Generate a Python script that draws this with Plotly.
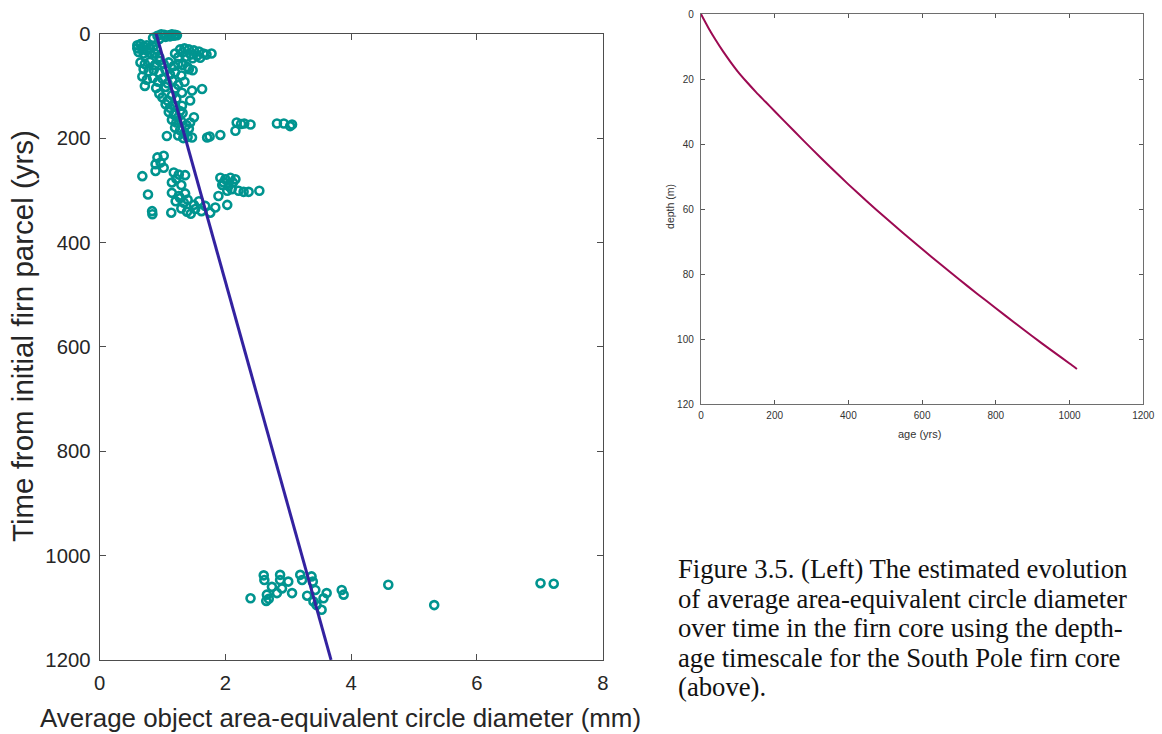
import plotly.graph_objects as go

# ---- Left panel: average area-equivalent circle diameter vs. time ----
# Diameter (mm) of each measured object group and its time from the initial firn parcel (yrs)
diam_mm = [
    # near the surface
    0.85, 0.92, 0.98, 1.03, 1.10, 1.15, 1.20, 1.23, 0.95, 1.05, 1.12, 1.18,
    0.60, 0.65, 0.70, 0.75, 0.80, 0.60, 0.68, 0.75, 0.85, 0.90, 0.62, 0.70, 0.80, 0.88, 0.95,
    1.20, 1.28, 1.35, 1.42, 1.50, 1.58, 1.65, 1.32, 1.45, 1.55, 1.25, 1.38, 1.70, 1.78, 1.60, 1.48,
    0.65, 0.72, 0.80, 0.88, 0.95, 1.02, 1.10, 1.18, 1.25, 1.32, 1.40,
    0.70, 0.78, 0.86, 0.95, 1.05, 1.12, 1.20, 1.30, 1.42, 1.48,
    0.68, 0.75, 0.85, 0.93, 1.00, 1.08, 1.16, 1.25, 1.35, 0.72, 0.90, 1.05, 1.20,
    1.31, 1.47, 1.63, 1.44, 1.31, 0.95, 1.00, 1.08, 1.15, 1.22, 1.05, 1.12, 1.20, 1.28,
    1.10, 1.18, 1.25, 1.32, 1.15, 1.22, 1.30, 1.38, 1.20, 1.28, 1.35, 1.42, 1.25, 1.33,
    1.40, 1.47, 1.07, 1.44, 1.50,
    1.71, 1.75, 1.92, 2.16, 2.18, 2.25, 2.30, 2.40, 2.82, 2.93, 3.03, 3.06,
    # ~250-350 yrs
    0.92, 1.02, 0.89, 0.97, 1.02, 0.68, 0.89, 1.18, 1.26, 1.36, 1.15, 1.22, 1.30,
    0.77, 1.15, 1.26, 1.36, 1.21, 1.34, 1.28, 1.40, 0.835, 0.84, 1.14, 1.39, 1.52,
    1.58, 1.68, 1.84, 1.76, 2.03, 1.89, 1.45, 1.62, 1.30, 1.50,
    1.92, 2.00, 2.08, 2.16, 1.97, 2.05, 2.10, 2.21, 2.29, 2.37, 2.54, 2.03, 1.95, 2.12,
    # ~1040-1100 yrs
    2.40, 2.61, 2.62, 2.66, 2.69, 2.65, 2.74, 2.82, 2.87, 2.87, 2.90, 3.00, 3.06,
    3.19, 3.22, 3.37, 3.39, 3.30, 3.43, 3.40, 3.45, 3.53, 3.56, 3.61, 3.85, 3.88,
    4.59, 5.32, 7.01, 7.22,
]
time_yrs = [
    8, 4, 1, 2, 3, 1, 2, 3, 10, 6, 5, 4,
    22, 20, 24, 22, 27, 28, 30, 32, 25, 30, 35, 38, 36, 38, 45,
    38, 30, 28, 30, 32, 34, 38, 36, 40, 42, 45, 44, 40, 38, 46, 47,
    55, 58, 54, 60, 52, 58, 55, 62, 58, 60, 64,
    68, 72, 70, 75, 70, 78, 74, 80, 68, 70,
    82, 88, 85, 92, 86, 95, 90, 98, 92, 100, 104, 102, 105,
    113, 109, 106, 128, 138, 115, 122, 128, 118, 125, 135, 142, 138, 148,
    150, 155, 160, 152, 165, 170, 168, 175, 180, 185, 190, 182, 195, 200,
    198, 199, 196, 170, 160,
    199, 197, 194, 186, 170, 173, 172, 174, 172, 172, 177, 174,
    237, 234, 250, 247, 257, 273, 263, 266, 270, 271, 285, 278, 290,
    308, 305, 311, 306, 321, 324, 315, 318, 340, 346, 343, 341, 336,
    321, 330, 333, 343, 328, 311, 345, 340, 335, 328,
    276, 279, 276, 279, 285, 292, 298, 301, 303, 303, 301, 301, 290, 285,
    1082, 1038, 1047, 1075, 1083, 1087, 1060, 1072, 1037, 1047, 1063, 1050, 1072,
    1037, 1047, 1040, 1050, 1077, 1066, 1088, 1095, 1104, 1082, 1072, 1066, 1075,
    1056, 1095, 1053, 1054,
]

# Linear trend of diameter with time
trend_time = [0, 1200]
trend_diam = [0.90, 3.68]

# ---- Right panel: depth-age timescale for the South Pole firn core ----
age_yrs = [0, 20, 40, 60, 80, 100, 125, 150, 175, 200, 250, 300, 350, 400, 450,
           500, 550, 600, 650, 700, 750, 800, 850, 900, 950, 1000, 1020]
depth_m = [0, 4.2, 8.0, 11.5, 14.7, 17.7, 21.0, 24.1, 27.0, 29.9, 35.7, 41.4, 47.0,
           52.4, 57.6, 62.6, 67.5, 72.3, 77.0, 81.6, 86.1, 90.5, 94.9, 99.2, 103.4,
           107.5, 109.2]

left_ticks_x = [0, 2, 4, 6, 8]
left_ticks_y = [0, 200, 400, 600, 800, 1000, 1200]
right_ticks_x = [0, 200, 400, 600, 800, 1000, 1200]
right_ticks_y = [0, 20, 40, 60, 80, 100, 120]

caption_lines = [
    "Figure 3.5. (Left) The estimated evolution",
    "of average area-equivalent circle diameter",
    "over time in the firn core using the depth-",
    "age timescale for the South Pole firn core",
    "(above).",
]

W, H = 1162, 734
# Placement of the panels is written in screen pixels; these factors convert
# them to figure pixels for the way the page is laid out and scaled on screen.
SCALE_X, SCALE_Y = 0.986, 0.969
OFFSET_X, OFFSET_Y = 7.0, 10.3

TEAL = "#00948f"
INDIGO = "#3322a0"
MAROON = "#9c0a52"
SANS = "Liberation Sans, Arial, sans-serif"


def px_x(p):
    return ((p - OFFSET_X) / SCALE_X) / W


def px_y(p):
    return 1 - ((p - OFFSET_Y) / SCALE_Y) / H


fig = go.Figure()

fig.add_trace(go.Scatter(
    x=diam_mm, y=time_yrs, mode="markers", xaxis="x", yaxis="y",
    marker=dict(symbol="circle-open", size=8, color=TEAL, line=dict(width=2.6, color=TEAL)),
    cliponaxis=False, showlegend=False, hoverinfo="x+y",
))
fig.add_trace(go.Scatter(
    x=trend_diam, y=trend_time, mode="lines", xaxis="x", yaxis="y",
    line=dict(color=INDIGO, width=3), showlegend=False,
))
fig.add_trace(go.Scatter(
    x=age_yrs, y=depth_m, mode="lines", xaxis="x2", yaxis="y2",
    line=dict(color=MAROON, width=2, shape="spline", smoothing=0.6), showlegend=False,
))

left_axis = dict(
    showline=True, linecolor="#4d4d4d", linewidth=1, mirror="ticks",
    ticks="inside", ticklen=6, tickcolor="#4d4d4d", tickwidth=1,
    showgrid=False, zeroline=False,
    tickfont=dict(family=SANS, size=20.3, color="#262626"),
)
right_axis = dict(
    showline=True, linecolor="#6e6e6e", linewidth=1.3, mirror="ticks",
    ticks="inside", ticklen=4, tickcolor="#555555", tickwidth=1,
    showgrid=False, zeroline=False, ticklabeloverflow="allow",
    tickfont=dict(family=SANS, size=10, color="#333333"),
)

fig.update_layout(
    width=W, height=H,
    margin=dict(l=0, r=0, t=0, b=0),
    paper_bgcolor="white", plot_bgcolor="white",
    xaxis=dict(left_axis, domain=[px_x(100.7), px_x(604.7)], range=[0, 8],
               tickvals=left_ticks_x, anchor="y", ticklabelstandoff=5),
    yaxis=dict(left_axis, domain=[px_y(658.5), px_y(33)], range=[1200, 0],
               tickvals=left_ticks_y, anchor="x", ticklabelstandoff=4),
    xaxis2=dict(right_axis, domain=[px_x(703), px_x(1146)], range=[0, 1200],
                tickvals=right_ticks_x, anchor="y2", ticklabelstandoff=2),
    yaxis2=dict(right_axis, domain=[px_y(403), px_y(13.3)], range=[120, 0],
                tickvals=right_ticks_y, anchor="x2", ticklabelstandoff=4),
)

annotations = [
    dict(text="Average object area-equivalent circle diameter (mm)",
         x=px_x(342), y=px_y(717), xref="paper", yref="paper",
         xanchor="center", yanchor="middle", showarrow=False,
         font=dict(family=SANS, size=25.9, color="#262626")),
    dict(text="Time from initial firn parcel (yrs)",
         x=px_x(23), y=px_y(335), xref="paper", yref="paper", textangle=-90,
         xanchor="center", yanchor="middle", showarrow=False,
         font=dict(family=SANS, size=29.5, color="#262626")),
    dict(text="age (yrs)",
         x=px_x(922), y=px_y(433), xref="paper", yref="paper",
         xanchor="center", yanchor="middle", showarrow=False,
         font=dict(family=SANS, size=11, color="#333333")),
    dict(text="depth (m)",
         x=px_x(672), y=px_y(205), xref="paper", yref="paper", textangle=-90,
         xanchor="center", yanchor="middle", showarrow=False,
         font=dict(family=SANS, size=10.5, color="#333333")),
]
for i, line in enumerate(caption_lines):
    annotations.append(dict(
        text=line, x=px_x(678), y=px_y(568 + 29.5 * i), xref="paper", yref="paper",
        xanchor="left", yanchor="middle", showarrow=False, align="left",
        font=dict(family="Liberation Serif, Times New Roman, serif", size=26.7, color="#111111"),
    ))
fig.update_layout(annotations=annotations)

fig.write_html("out.html")
